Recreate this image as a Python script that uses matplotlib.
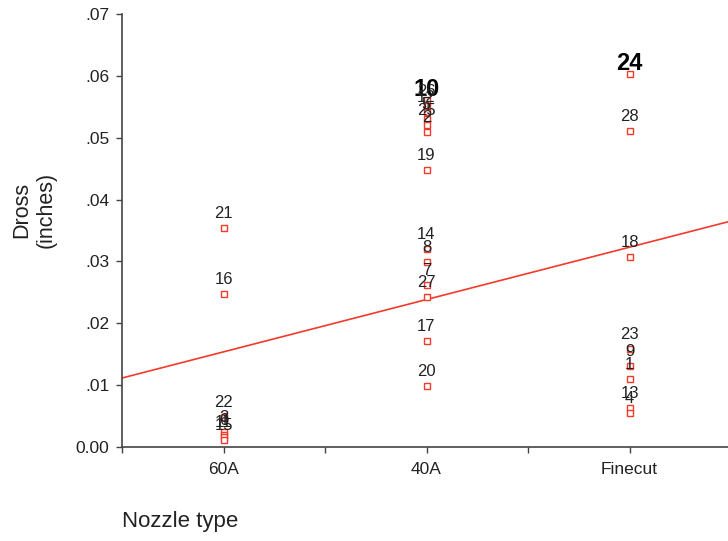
import matplotlib
matplotlib.use("Agg")
import matplotlib.pyplot as plt
from matplotlib.ticker import FixedLocator

plt.rcParams['font.family'] = ['Liberation Sans', 'DejaVu Sans']

# nozzle categories and one row per cut (case number, nozzle, dross)
nozzle_types = ['60A', '40A', 'Finecut']
case_ids = [21, 16, 22, 3, 6, 11, 15,
            10, 26, 12, 5, 25, 2, 19, 14, 8, 7, 27, 17, 20,
            24, 28, 18, 23, 9, 1, 13, 4]
nozzle = ['60A'] * 7 + ['40A'] * 13 + ['Finecut'] * 8
dross = [0.0354, 0.0247, 0.0048, 0.0024, 0.0020, 0.0016, 0.0012,
         0.0561, 0.0551, 0.0542, 0.0530, 0.0521, 0.0509, 0.0448,
         0.0320, 0.0299, 0.0262, 0.0242, 0.0171, 0.0099,
         0.0603, 0.0511, 0.0307, 0.0158, 0.0131, 0.0110, 0.0063, 0.0055]
highlighted = [10, 24]

# linear fit line (dross vs nozzle code 1..3)
fit_intercept = 0.00692
fit_slope = 0.00846

y_ticks = [0.0, 0.01, 0.02, 0.03, 0.04, 0.05, 0.06, 0.07]
y_ticklabels = ['0.00', '.01', '.02', '.03', '.04', '.05', '.06', '.07']

red = '#f23a2a'
ink = '#222222'

fig = plt.figure(figsize=(7.28, 5.41), dpi=100)
ax = fig.add_axes([122 / 728, 94 / 541, 606 / 728, 433 / 541])

codes = [nozzle_types.index(n) + 1 for n in nozzle]
ax.plot(codes, dross, linestyle='none', marker='s', markersize=5,
        markerfacecolor='white', markeredgecolor=red, markeredgewidth=1.0,
        zorder=3)

ax.axline((0, fit_intercept), slope=fit_slope, color=red, linewidth=1.2,
          zorder=2)

for cid, x, y in zip(case_ids, codes, dross):
    if cid in highlighted:
        ax.annotate(str(cid), (x, y), xytext=(0, 4), textcoords='offset pixels',
                    ha='center', va='baseline', fontsize=17, fontweight='bold',
                    color='black', zorder=4)
    else:
        ax.annotate(str(cid), (x, y), xytext=(0, 10), textcoords='offset pixels',
                    ha='center', va='baseline', fontsize=12, color=ink,
                    zorder=4)

ax.set_xlim(0.5, 0.5 + 606 / 203)
ax.set_ylim(0, 0.07)

ax.set_xticks([1, 2, 3])
ax.set_xticklabels(nozzle_types)
ax.xaxis.set_minor_locator(FixedLocator([0.5, 1.5, 2.5, 3.5]))
ax.set_yticks(y_ticks)
ax.set_yticklabels(y_ticklabels)

ax.tick_params(axis='both', which='both', direction='out', length=4,
               width=1, color='#444444', labelsize=12.5, labelcolor=ink)
ax.tick_params(axis='x', pad=7)
ax.tick_params(axis='y', pad=5)

for side in ('top', 'right'):
    ax.spines[side].set_visible(False)
for side in ('left', 'bottom'):
    ax.spines[side].set_color('#444444')
    ax.spines[side].set_linewidth(1.2)

fig.text(34 / 728, 1 - 210 / 541, 'Dross\n(inches)', rotation=90,
         ha='center', va='center', fontsize=15.5, color=ink)
fig.text(122 / 728, 1 - 522 / 541, 'Nozzle type', ha='left', va='center',
         fontsize=16, color=ink)

fig.savefig('out.png', dpi=100)
